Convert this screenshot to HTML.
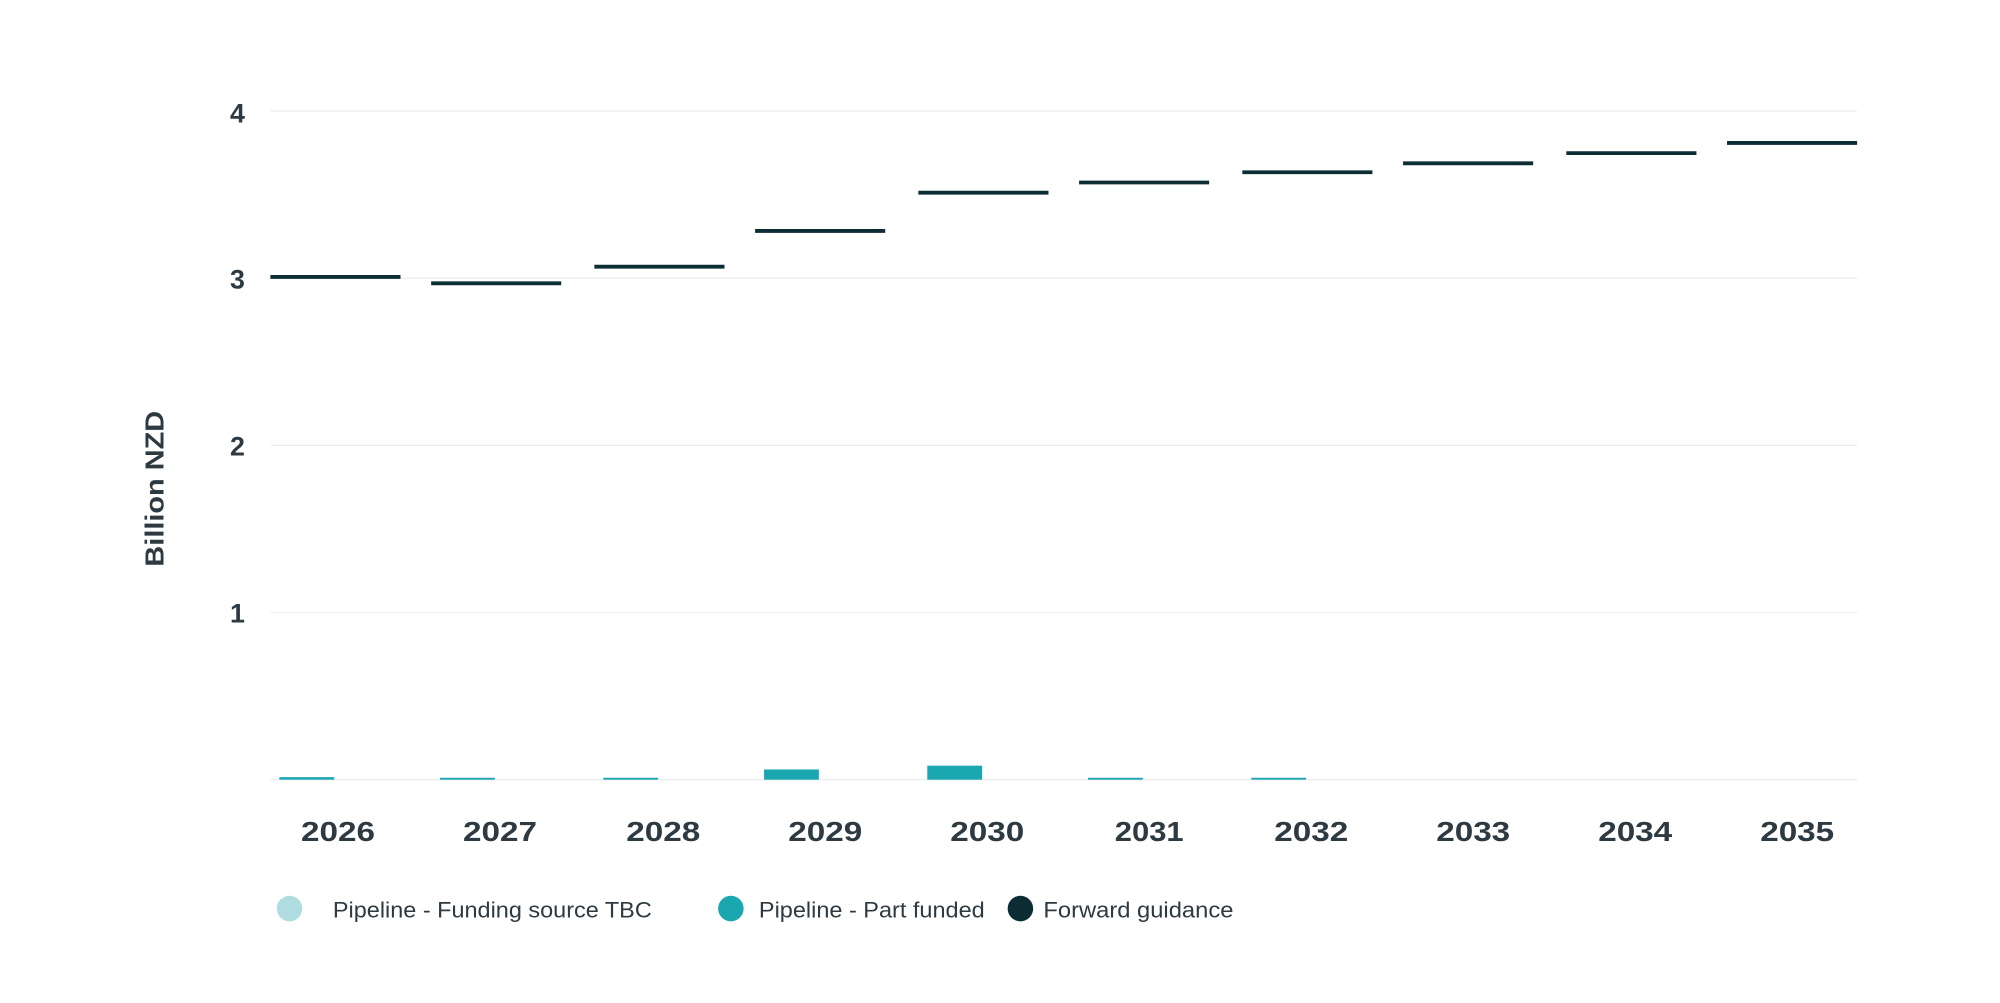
<!DOCTYPE html>
<html><head><meta charset="utf-8"><style>
html,body{margin:0;padding:0;background:#fff;}
svg{display:block;}
text{font-family:"Liberation Sans",sans-serif;fill:#2e3a42;}
</style></head><body>
<svg width="2000" height="1003" viewBox="0 0 1568 786" preserveAspectRatio="none">
<g stroke="#eeeeee" stroke-width="1">
<line x1="212" x2="1456" y1="87" y2="87"/>
<line x1="212" x2="1456" y1="218" y2="218"/>
<line x1="212" x2="1456" y1="349" y2="349"/>
<line x1="212" x2="1456" y1="480" y2="480"/>
<line x1="212" x2="1456" y1="611" y2="611"/>
</g>
<g font-size="21" font-weight="bold" text-anchor="end">
<text x="192" y="96">4</text>
<text x="192" y="226">3</text>
<text x="192" y="357">2</text>
<text x="192" y="488">1</text>
</g>
<text transform="translate(128,383) rotate(-90)" font-size="20" font-weight="bold" text-anchor="middle" textLength="122" lengthAdjust="spacingAndGlyphs">Billion NZD</text>
<g fill="#1ba7b0">
<rect x="219" y="609" width="43" height="2"/>
<rect x="345" y="609.5" width="43" height="1.5"/>
<rect x="473" y="609.5" width="43" height="1.5"/>
<rect x="599" y="603" width="43" height="8"/>
<rect x="727" y="600" width="43" height="11"/>
<rect x="853" y="609.5" width="43" height="1.5"/>
<rect x="981" y="609.5" width="43" height="1.5"/>
</g>
<g stroke="#0b2d33" stroke-width="3">
<line x1="212" x2="314" y1="217" y2="217"/>
<line x1="338" x2="440" y1="222" y2="222"/>
<line x1="466" x2="568" y1="209" y2="209"/>
<line x1="592" x2="694" y1="181" y2="181"/>
<line x1="720" x2="822" y1="151" y2="151"/>
<line x1="846" x2="948" y1="143" y2="143"/>
<line x1="974" x2="1076" y1="135" y2="135"/>
<line x1="1100" x2="1202" y1="128" y2="128"/>
<line x1="1228" x2="1330" y1="120" y2="120"/>
<line x1="1354" x2="1456" y1="112" y2="112"/>
</g>
<g font-size="22" font-weight="bold" text-anchor="middle">
<text x="265" y="659" textLength="58" lengthAdjust="spacingAndGlyphs">2026</text>
<text x="392" y="659" textLength="58" lengthAdjust="spacingAndGlyphs">2027</text>
<text x="520" y="659" textLength="58" lengthAdjust="spacingAndGlyphs">2028</text>
<text x="647" y="659" textLength="58" lengthAdjust="spacingAndGlyphs">2029</text>
<text x="774" y="659" textLength="58" lengthAdjust="spacingAndGlyphs">2030</text>
<text x="901" y="659" textLength="54" lengthAdjust="spacingAndGlyphs">2031</text>
<text x="1028" y="659" textLength="58" lengthAdjust="spacingAndGlyphs">2032</text>
<text x="1155" y="659" textLength="58" lengthAdjust="spacingAndGlyphs">2033</text>
<text x="1282" y="659" textLength="58" lengthAdjust="spacingAndGlyphs">2034</text>
<text x="1409" y="659" textLength="58" lengthAdjust="spacingAndGlyphs">2035</text>
</g>
<circle cx="227" cy="712" r="10" fill="#afdcdf"/>
<circle cx="573" cy="712" r="10" fill="#1ba7b0"/>
<circle cx="800" cy="712" r="10" fill="#0b2d33"/>
<g font-size="17.5">
<text x="261" y="719" textLength="250" lengthAdjust="spacingAndGlyphs">Pipeline - Funding source TBC</text>
<text x="595" y="719" textLength="177" lengthAdjust="spacingAndGlyphs">Pipeline - Part funded</text>
<text x="818" y="719" textLength="149" lengthAdjust="spacingAndGlyphs">Forward guidance</text>
</g>
</svg>
</body></html>
